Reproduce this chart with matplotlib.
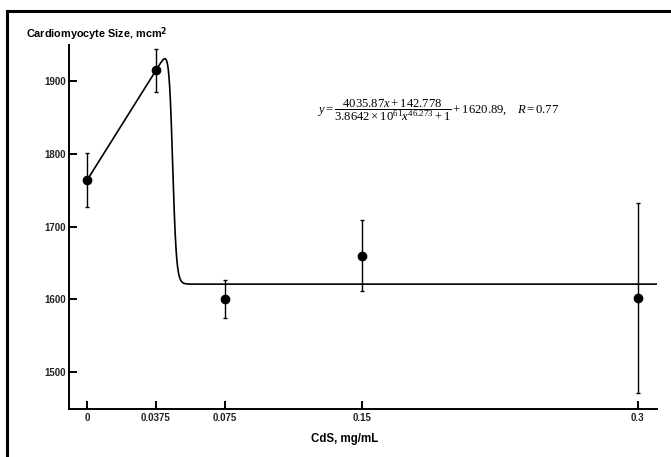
import numpy as np
import matplotlib
matplotlib.use("Agg")
import matplotlib.pyplot as plt
from matplotlib.lines import Line2D

# measured points (mean +/- error)
dose = [0.0, 0.0375, 0.075, 0.15, 0.3]
size_mean = [1764, 1915, 1600, 1660, 1602]
size_err = [37, 30, 26, 49, 131]
dose_labels = ["0", "0.0375", "0.075", "0.15", "0.3"]
y_ticks = [1500, 1600, 1700, 1800, 1900]

# fitted curve coefficients, as printed on the chart
fit_a = 4035.87
fit_b = 142.778
fit_c = 3.8642e61
fit_n = 46.273
fit_d = 1620.89

plt.rcParams["mathtext.fontset"] = "custom"
plt.rcParams["mathtext.rm"] = "Liberation Serif"
plt.rcParams["mathtext.it"] = "Liberation Serif:italic"

fig = plt.figure(figsize=(6.71, 4.57), dpi=100)
ax = fig.add_axes([0.1028, 0.105, 0.876, 0.7965])

xs = np.linspace(0, 0.3104, 3000)
ys = (fit_a * xs + fit_b) / (fit_c * xs ** fit_n + 1) + fit_d
ax.plot(xs, ys, color="black", lw=1.2)

ax.errorbar(dose, size_mean, yerr=size_err, fmt="o", color="black", ms=6,
            elinewidth=1.0, capsize=1.5, capthick=1.0)

ax.set_xlim(-0.0098, 0.3104)
ax.set_ylim(1449, 1950)
ax.set_xticks(dose)
ax.set_xticklabels(dose_labels)
ax.set_yticks(y_ticks)
for s in ["top", "right"]:
    ax.spines[s].set_visible(False)
for s in ["left", "bottom"]:
    ax.spines[s].set_linewidth(1.4)
ax.tick_params(axis="x", direction="in", length=6, width=1.4, pad=3)
ax.tick_params(axis="y", direction="in", length=6, width=1.4, pad=2)
for lab in ax.get_xticklabels() + ax.get_yticklabels():
    lab.set_fontfamily("Liberation Sans")
    lab.set_fontweight("bold")
    lab.set_fontsize(7)
    lab.set_color("#222222")

fig.text(0.039, 0.925, "Cardiomyocyte Size, mcm$^\\mathbf{2}$", fontsize=7.8,
         fontweight="bold", family="Liberation Sans", va="center", ha="left")
fig.text(0.513, 0.04, "CdS, mg/mL", fontsize=8.3, fontweight="bold",
         family="Liberation Sans", ha="center", va="center")

eq = (r"$y=\dfrac{4035.87x+142.778}{3.8642\times10^{61}x^{46.273}+1}"
      r"+1620.89,\quad R=0.77$")
fig.text(0.473, 0.76, eq, fontsize=9.1, ha="left", va="center")

# partial outer frame (top and left edges)
fig.add_artist(Line2D([0.0104, 1.0], [0.976, 0.976], color="black", lw=2.2,
                      transform=fig.transFigure))
fig.add_artist(Line2D([0.0104, 0.0104], [0.0, 0.976], color="black", lw=2.2,
                      transform=fig.transFigure))

fig.savefig("out.png", dpi=100)
